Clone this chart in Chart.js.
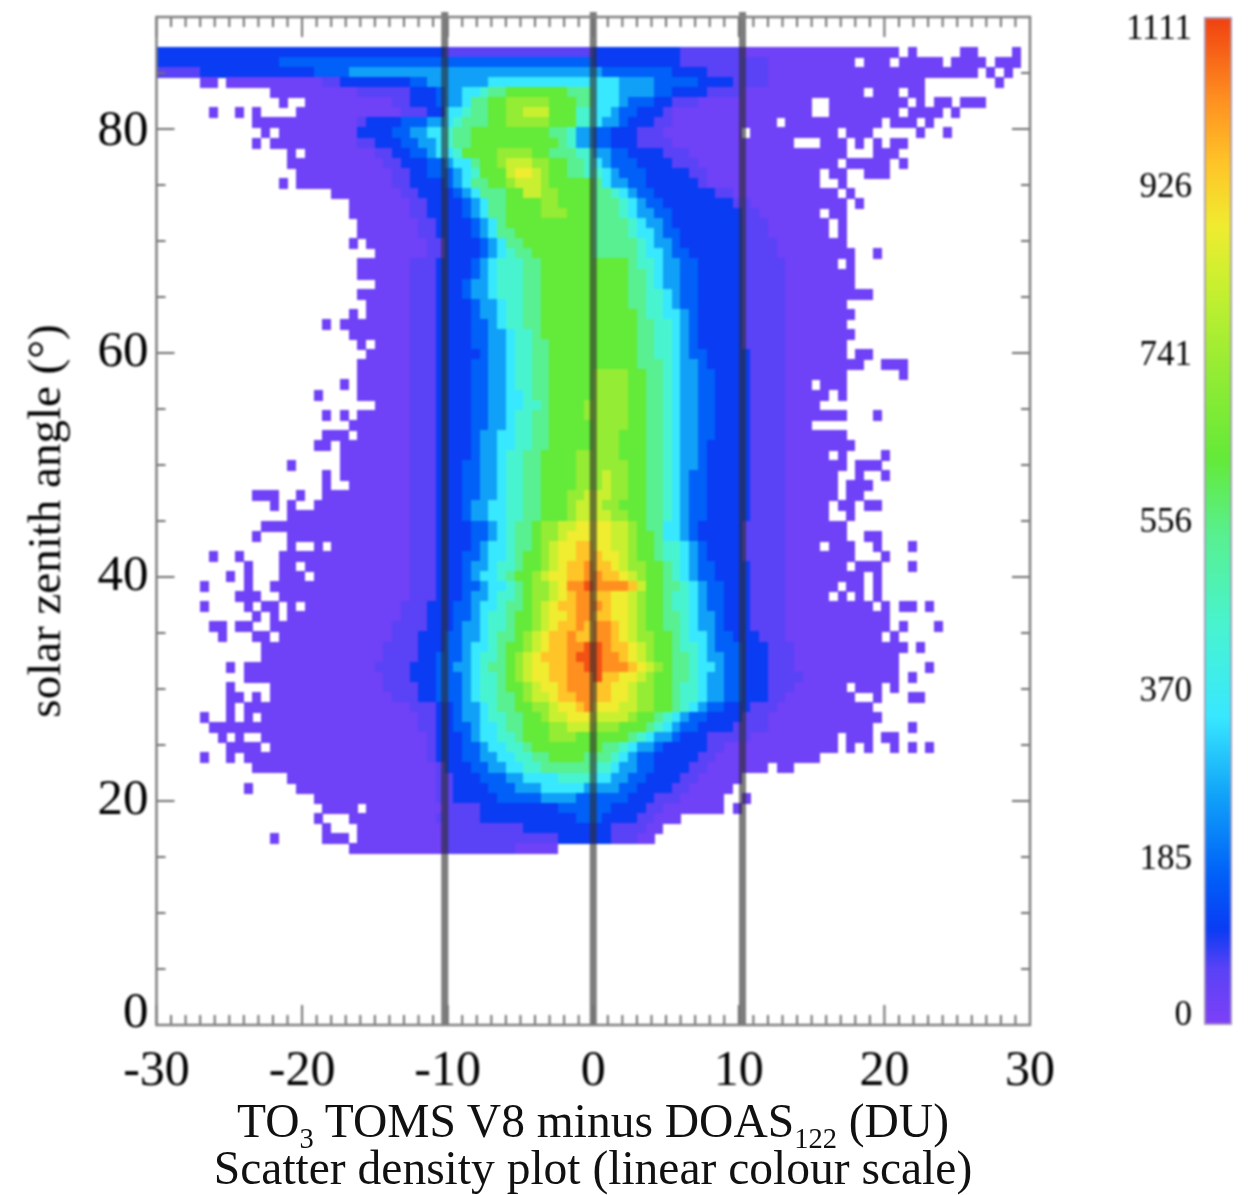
<!DOCTYPE html>
<html>
<head>
<meta charset="utf-8">
<script src="https://cdn.jsdelivr.net/npm/chart.js@4"></script>
<style>
    html, body { margin: 0; padding: 0; background: #fff; }
    body { width: 1248px; height: 1195px; position: relative; overflow: hidden; }
    canvas { position: absolute; top: 0; filter: blur(0.8px); }
    #mainChart { left: 0; }
    #barChart { left: 1100px; }
    .xtitle {
        position: absolute; left: 93px; width: 1000px; text-align: center; white-space: nowrap;
        font-family: "Liberation Serif", serif; color: #111; filter: blur(0.4px);
    }
    .xtitle sub { font-size: 60%; line-height: 0; }
</style>
</head>
<body>
<canvas id="mainChart" width="1248" height="1195"></canvas>
<canvas id="barChart" width="148" height="1195"></canvas>
<div class="xtitle" style="top:1096px;font-size:47.5px;line-height:50px">TO<sub>3</sub> TOMS V8 minus DOAS<sub>122</sub> (DU)</div>
<div class="xtitle" style="top:1143px;font-size:47.5px;line-height:50px">Scatter density plot (linear colour scale)</div>
<script>
'use strict';

var xTickValues = [-30, -20, -10, 0, 10, 20, 30];
var xTickLabels = ['-30', '-20', '-10', '0', '10', '20', '30'];
// the 0 label sits a little above its tick in the original
var yLabelValues = [1.05, 20, 40, 60, 79.8];
var yTickLabels = ['0', '20', '40', '60', '80'];
var guideLines = [-10.2, 0, 10.25];

var barLabelValues = [10, 182, 367, 553, 738, 923, 1097];
var barTickLabels = ['0', '185', '370', '556', '741', '926', '1111'];

// counts per level letter, read against the colour bar
var levelNames = 'abcdefghijklmno';
var levelCounts = [25, 62, 105, 165, 250, 340, 440, 540, 625, 720, 815, 880, 950, 1020, 1090];

var stopCounts = [0, 62, 105, 165, 250, 340, 440, 540, 625, 720, 815, 880, 950, 1020, 1111];
var stopColours = ['#7e40f8', '#5a42f6', '#0a3cf4', '#0060f8', '#10a0f8', '#38e8ff', '#48f4d0', '#58f090',
    '#64ea38', '#94ec34', '#c8f030', '#f0ec30', '#ffc428', '#ff9020', '#f04010'];

// 100 x 100 bins, 0.6 DU by 0.9 deg. Rows from bin 96 down to bin 17,
// each token is "first column + level", a dot means empty bins.
var densityRows = [
    '0c 33b 50c 60b 67a 85. 86a 87. 92a 94. 98a 99.',
    '0c 14d 50c 60b 70a 80. 81a 84. 85a 90. 91a 95. 96a 99.',
    '0b 5c 18d 22e 51d 59c 63b 70a 94. 95a 96. 97a 98.',
    '5a 7. 8a 19b 21c 29d 31e 38f 53e 57d 62c 66b 70a 88. 96a 97.',
    '13a 23b 29c 32d 33e 35f 37g 38h 40i 47h 50f 53e 57d 59c 63b 67a 81. 82a 85. 86a 88.',
    '14a 15. 17a 27b 29c 32d 33e 35f 36h 38i 40j 45i 48h 50f 53e 54d 57c 59b 62a 75. 77a 86. 87a 88. 89a 91. 92a 95.',
    '6a 7. 9a 10. 11a 12. 16a 28b 31c 33f 35g 36h 38i 40j 42k 45i 48g 50f 52e 53d 55c 58b 59a 75. 77a 85. 86a 90. 91a 92.',
    '11a 23b 24c 28d 31e 33f 34g 35h 38i 40j 45i 48g 50f 51e 53d 54c 57b 59a 71. 72a 83. 84a 87. 88a 89.',
    '12a 13. 14a 23c 27d 29e 31f 33g 34h 36i 45h 47g 48e 50d 52c 55b 58a 67. 68a 78. 79a 82. 87a 88. 90a 91.',
    '11a 12. 13a 23b 25c 28d 30e 32f 33g 34h 36i 46h 47g 48e 50d 52c 55b 59a 73. 76a 79. 80a 81. 82a 83. 84a 86.',
    '15a 16. 17a 25b 27c 29d 31e 32f 34g 35i 39j 43i 45h 48g 50e 52d 54c 58b 61a 79. 82a 85.',
    '15a 26b 28c 31d 33e 34f 36h 37i 39j 40k 43j 45i 47h 49g 50f 51e 52d 55c 59b 62a 78. 79a 84. 85a 86.',
    '16a 27b 29c 31d 34e 35f 36g 37i 40k 41l 43k 44j 45i 47h 49g 51f 52e 53d 56c 61b 63a 76. 77a 79. 81a 84.',
    '14a 15. 16a 27b 29c 33d 34e 35f 36h 38i 40j 41k 44j 45i 50h 51f 52e 54d 56c 62b 63a 76. 78a 79.',
    '20a 28b 30c 34d 35e 36f 37h 40i 42k 44j 46i 50h 52g 53f 54e 55d 57c 64b 66a 78. 79a 80.',
    '22a 29b 31c 35d 36e 37f 38h 40i 44j 46i 50h 53g 54f 55e 56d 58c 66b 68a 79. 80a 81.',
    '22a 29b 31c 35d 36e 37f 38h 40i 44j 47i 50h 53g 54f 55e 57d 59c 67b 69a 76. 77a 79.',
    '23a 30b 32c 36d 37e 38f 39h 40i 50h 54g 55f 56e 58d 59c 67b 70a 77. 78a 79.',
    '23a 30b 32c 36d 37e 38f 39h 41i 50h 54g 55f 57e 58d 60c 67b 70a 77. 78a 79.',
    '22a 23. 24a 31b 33c 37d 38e 39f 40h 42i 50h 55g 56f 57e 59d 60c 67b 71a 79.',
    '25a 31b 33c 37d 38e 39f 40g 41h 43i 50h 55g 56f 58e 59d 61c 67b 71a 80. 82a 83.',
    '23a 29b 32c 36d 37e 38f 39g 42h 44i 54h 55g 57f 58e 60d 62c 67b 72a 78. 79a 80.',
    '23a 29b 32c 36d 37e 38f 39g 42h 44i 54h 56g 57f 58e 60d 62c 67b 72a 80.',
    '25a 29b 32c 35d 36e 38f 39g 42h 44i 54h 56g 57f 58e 60d 62c 67b 72a 80.',
    '23a 29b 32c 35d 36e 38f 39g 42h 44i 54h 56g 58f 59e 60d 62c 67b 72a 82.',
    '24a 29b 32c 36d 37e 39f 40g 42h 44i 54h 56g 58f 59e 60d 62c 67b 72a 79.',
    '22a 23. 24a 29b 32c 36d 37e 39f 40g 42h 44i 55h 56g 58f 60e 61d 62c 67b 72a 80.',
    '19a 20. 21a 29b 32c 36d 38e 39f 40g 42h 44i 55h 57g 59f 60e 61d 62c 67b 72a 79.',
    '22a 29b 32c 36d 38e 40f 41g 43h 44i 55h 57g 59f 60e 61d 62c 67b 72a 80.',
    '23a 24. 25a 29b 32c 36d 38e 40f 41g 43h 45i 55h 57g 59f 60e 61d 62c 67b 72a 79.',
    '24a 29b 32c 37d 38e 40f 41g 43h 45i 55h 57g 59f 60e 61d 63c 68b 72a 79. 80a 82.',
    '23a 29b 32c 36d 38e 40f 41g 43h 45i 55h 58g 59f 60e 62d 63c 68b 72a 81. 83a 86.',
    '23a 29b 32c 36d 38e 40f 41g 43h 45i 50j 54i 56h 58g 59f 60e 62d 64c 68b 72a 79. 85a 86.',
    '21a 22. 23a 29b 32c 36d 38e 40f 41g 43h 45i 50j 54i 56h 58g 59f 60e 62d 64c 68b 72a 75. 76a 79.',
    '18a 19. 23a 29b 32c 36d 38e 40f 42g 43h 45i 50j 54i 56h 58g 59f 60e 62d 64c 68b 72a 77. 78a 79.',
    '25a 29b 32c 36d 38e 40f 42g 44h 45i 49j 54i 56h 58g 59f 60e 62d 64c 68b 72a 76.',
    '19a 20. 21a 22. 23a 29b 32c 36d 38e 40f 41g 43h 45i 49j 54i 56h 58g 59f 60e 62d 64c 68b 72a 79. 82a 83.',
    '22a 29b 32c 36d 38e 40f 41g 43h 45i 50j 54i 56h 58g 59f 60e 62d 64c 68b 72a 75.',
    '19a 22. 23a 29b 32c 36d 37e 39f 41g 43h 45i 50j 53i 56h 58g 59f 60e 62d 64c 68b 72a 79.',
    '18a 20. 21a 29b 32c 36d 37e 39f 41g 43h 45i 50j 53i 56h 58g 59f 60e 62d 63c 68b 72a 80.',
    '21a 29b 32c 36d 37e 39f 40g 42h 44i 48j 53i 56h 58g 59f 60e 62d 63c 68b 72a 77. 78a 79. 83a 84.',
    '15a 16. 21a 29b 32c 35d 37e 39f 40g 42h 44i 48j 54i 56h 58g 59f 60e 62d 63c 68b 72a 79. 80a 83.',
    '19a 20. 21a 29b 32c 35d 37e 39f 40g 42h 44i 48j 51k 52j 54i 56h 58g 59f 60e 61d 63c 68b 72a 78. 80a 81. 83a 84.',
    '19a 20. 22a 29b 32c 35d 37e 39f 40g 42h 44i 48j 51k 52j 54i 56h 58g 59f 60e 61d 63c 68b 72a 78. 79a 82.',
    '11a 14. 16a 17. 19a 29b 32c 35d 37e 39f 40g 42h 44i 47j 49k 52j 54i 56h 58g 59f 60e 61d 63c 68b 72a 78. 79a 81.',
    '13a 14. 15a 16. 18a 29b 32c 35d 36e 38f 40g 42h 44i 47j 48k 51j 53i 56h 58g 59f 60e 61d 63c 68b 72a 77. 78a 80. 81a 83.',
    '15a 29b 32c 35d 36e 38f 40g 42h 44i 47j 48k 52j 54i 56h 58g 59f 60e 61d 63c 68b 72a 77. 79a 80.',
    '12a 29b 32c 36d 38e 39f 40g 41h 43i 44j 46k 48l 52k 54j 55i 56h 58f 60e 61d 62c 67b 72a 79.',
    '11a 12. 15a 29b 32c 36d 38e 39f 40g 41h 43i 44j 46k 47l 52k 54j 55i 57h 58f 60e 61d 62c 67b 72a 79. 81a 83.',
    '15a 16. 18a 19. 20a 29b 32c 36d 37e 38f 40g 41h 43i 44j 45k 46l 48m 50l 52k 54j 55i 57h 58g 60f 61e 62d 63c 67b 72a 76. 77a 80. 82a 83. 86a 87.',
    '6a 7. 9a 10. 14a 29b 32c 35d 37e 38f 40g 41h 42i 44j 45k 46l 48m 51l 53k 54j 55i 57h 58g 60f 61e 62d 63c 67b 72a 80. 83a 84.',
    '10a 11. 14a 16. 17a 29b 32c 35d 36e 38f 39g 41h 42i 44j 45k 46l 47m 49n 50m 52l 53k 54j 56i 58h 59g 60f 61e 62d 64c 68b 72a 79. 80a 83. 86a 87.',
    '8a 9. 10a 11. 14a 17. 18a 29b 32c 35d 36e 37f 39g 40h 41i 43j 44k 45l 47m 49n 51m 53l 54k 55j 56i 58h 59g 60f 61e 62d 64c 68b 72a 81. 82a 83.',
    '5a 6. 10a 11. 13a 29b 32c 35d 37e 38f 40g 41h 42i 43j 45k 46l 47n 49o 50n 54m 55k 56i 58h 60g 61f 62e 63d 65c 68b 72a 78. 79a 81. 82a 83.',
    '9a 12. 14a 29b 32c 35d 36e 38f 39g 41h 42i 43j 45k 46l 47m 48n 50m 52l 54k 55j 56i 58h 59g 61f 62e 63d 65c 68b 72a 77. 78a 79. 80a 81. 82a 83.',
    '5a 6. 10a 11. 12a 14. 15a 16. 17a 28b 31c 34d 36e 37f 39g 40h 42i 43j 44k 45l 46m 48n 51m 52l 54k 55j 56i 58h 59g 61f 62e 63d 65c 68b 72a 82. 83a 84. 85a 87. 88a 89.',
    '11a 12. 13a 14. 15a 28b 31c 34d 36e 37f 38g 40h 41i 43j 44k 45l 47m 48n 50m 52l 54k 55j 56i 58h 60g 61f 62e 64d 65c 68b 72a 84.',
    '6a 8. 9a 11. 13a 27b 31c 34d 35e 37f 38g 40h 41i 43j 44k 45l 46m 48n 49m 50n 52m 53l 54k 55j 56i 58h 60g 61f 62e 64d 65c 68b 72a 84. 85a 86. 89a 90.',
    '7a 8. 11a 13. 14a 27b 30c 33d 35e 37f 38g 39h 41i 42j 43k 44l 45m 47n 48m 50n 52m 53l 54k 55j 57i 59h 60g 61f 63e 64d 66c 69b 72a 83. 84a 85.',
    '12a 26b 30c 33d 35e 36f 38g 39h 40i 42j 43k 44l 45m 47n 49o 51n 52m 54l 55k 56j 57i 59h 60g 62f 63e 64d 67c 70b 73a 86. 87a 88.',
    '12a 26b 30c 32d 35e 36f 37g 39h 40i 41j 42k 43l 44m 47n 48o 51n 53m 54l 55k 56j 57i 59h 61g 62f 63e 65d 67c 70b 73a 85.',
    '8a 9. 10a 25b 29c 32d 34e 36f 37g 38h 40i 41j 42k 43l 45m 47n 49o 51n 54m 55l 56k 57j 58i 59h 61g 62f 64e 65d 67c 70b 73a 85. 88a 89.',
    '10a 26b 29c 32d 35e 36f 37g 39h 40i 41j 42k 43l 45m 47n 50o 51m 53l 55k 56j 57i 59h 61g 62f 63e 65d 67c 70b 74a 85. 86a 87.',
    '8a 9. 13a 26b 30c 32d 35e 36f 37g 39h 40i 42j 43k 44l 46m 47n 50m 52l 54k 55j 57i 59h 60g 62f 63e 65d 67c 70b 73a 79. 80a 83. 84a 85.',
    '8a 10. 11a 12. 13a 27b 30c 32d 35e 36f 37g 39h 41i 42j 43k 45l 46m 48n 50m 52l 54k 55j 57i 59h 60g 62f 63e 65d 67c 70b 72a 80. 82a 83. 86a 88.',
    '8a 9. 10a 29b 32c 34d 35e 37f 38g 39h 41i 43j 45k 46l 48m 49n 50l 53k 55j 57i 59h 60g 61f 62e 63d 65c 68b 71a 82.',
    '5a 6. 8a 9. 10a 11. 12a 30b 32c 34d 35e 37f 38g 40h 42i 44j 45k 47l 50k 54j 55i 57h 58g 59f 60e 61d 63c 67b 70a 83.',
    '6a 30b 32c 34d 36e 37f 39g 40h 42i 45j 47k 50j 53i 56h 57g 58f 59e 60d 62c 66b 70a 82. 86a 87.',
    '7a 8. 9a 10. 12a 31b 32c 35d 36e 37f 39g 41h 42i 45j 48i 54h 55g 56f 57e 59d 60c 63b 68a 78. 79a 82. 83a 85.',
    '8a 12. 13a 31b 32c 35d 37e 38f 40g 42h 43i 51h 53g 54f 55e 57d 58c 63b 65a 78. 79a 80. 81a 82. 84a 85. 86a 87. 88a 89.',
    '5a 6. 8a 9. 10a 31b 32c 35d 37e 39f 41g 43h 45i 49h 52g 53f 54e 55d 57c 62b 64a 76.',
    '11a 32b 33c 36d 38e 40f 42g 44h 50g 52f 53e 55d 57c 61b 63a 70. 71a 73.',
    '15a 32b 34c 37d 40e 42f 46g 50f 52e 54d 56c 60b 62a 67.',
    '10a 11. 16a 32b 34c 38d 41e 44f 49e 53d 55c 59b 61a 66.',
    '18a 32b 34c 39d 44e 48d 54c 57b 60a 65. 67a 68.',
    '19a 23. 24a 33b 37c 46d 52c 56b 58a 65. 66a 67.',
    '18a 19. 22a 32b 37c 48d 51c 55b 57a 60.',
    '19a 20. 23a 33b 42c 52b 56a 58.',
    '13a 14. 19a 22. 23a 33b 46c 52b 55a 57.',
    '22a 33b 41a 46.'
];
var firstRowBin = 96;

var binWidth = 0.6, binHeight = 0.9;

function hexToRgb(hex) {
    return [1, 3, 5].map(function (i) { return parseInt(hex.substr(i, 2), 16); });
}

function countColour(count) {
    var i = 1;
    while (i < stopCounts.length - 1 && count > stopCounts[i]) i++;
    var t = Math.max(0, Math.min(1, (count - stopCounts[i - 1]) / (stopCounts[i] - stopCounts[i - 1])));
    var a = hexToRgb(stopColours[i - 1]), b = hexToRgb(stopColours[i]);
    return 'rgb(' + a.map(function (v, k) { return Math.round(v + (b[k] - v) * t); }).join(',') + ')';
}

// one little canvas per colour, used as the point style of the cells
var cellImages = {};
function cellImage(count) {
    if (!cellImages[count]) {
        var c = document.createElement('canvas');
        c.width = 9;
        c.height = 11;
        var g = c.getContext('2d');
        g.fillStyle = countColour(count);
        g.fillRect(0, 0, 9, 11);
        cellImages[count] = c;
    }
    return cellImages[count];
}

var cells = [];
densityRows.forEach(function (row, r) {
    var bin = firstRowBin - r;
    var tokens = row.split(' ');
    tokens.forEach(function (tok, t) {
        var level = tok.charAt(tok.length - 1);
        if (level === '.') return;
        var from = parseInt(tok, 10);
        var to = t + 1 < tokens.length ? parseInt(tokens[t + 1], 10) : from + 1;
        var count = levelCounts[levelNames.indexOf(level)];
        for (var col = from; col < to; col++) {
            cells.push({ x: -30 + (col + 0.5) * binWidth, y: (bin + 0.5) * binHeight, count: count });
        }
    });
});

var serif = '"Liberation Serif", "Times New Roman", serif';

// the library reserves room for half a label at the axis ends, the frame here is fixed
function dropScaleMargins(s) {
    s.paddingTop = 0;
    s.paddingBottom = 0;
    s.paddingLeft = 0;
    s.paddingRight = 0;
}

// inward ticks on all four sides plus the frame
var frameTicks = {
    id: 'frameTicks',
    afterDraw: function (chart) {
        var c = chart.ctx, a = chart.chartArea, sx = chart.scales.x, sy = chart.scales.y, v, px, len;
        c.save();
        c.strokeStyle = '#707070';
        c.lineWidth = 2;
        c.beginPath();
        for (v = -30; v <= 30; v++) {
            px = sx.getPixelForValue(v);
            len = v % 10 === 0 ? 20 : 10;
            c.moveTo(px, a.top); c.lineTo(px, a.top + len);
            c.moveTo(px, a.bottom); c.lineTo(px, a.bottom - len);
        }
        for (v = 0; v <= 90; v += 5) {
            px = sy.getPixelForValue(v);
            len = v % 20 === 0 ? 18 : 9;
            c.moveTo(a.left, px); c.lineTo(a.left + len, px);
            c.moveTo(a.right, px); c.lineTo(a.right - len, px);
        }
        c.stroke();
        c.strokeStyle = '#808080';
        c.lineWidth = 2.5;
        c.strokeRect(a.left, a.top, a.right - a.left, a.bottom - a.top);
        c.restore();
    }
};

var datasets = [{
    label: 'density',
    data: cells,
    order: 2,
    showLine: false,
    pointRadius: 5,
    pointBorderWidth: 0,
    pointStyle: function (ctx) { return ctx.raw ? cellImage(ctx.raw.count) : 'rect'; }
}];
guideLines.forEach(function (g) {
    datasets.push({
        label: 'guide ' + g,
        data: [{ x: g, y: 0 }, { x: g, y: 90.45 }],
        order: 1,
        showLine: true,
        clip: false,
        borderColor: 'rgba(45,45,45,0.62)',
        borderWidth: 7,
        pointRadius: 0
    });
});

new Chart(document.getElementById('mainChart'), {
    type: 'scatter',
    data: { datasets: datasets },
    plugins: [frameTicks],
    options: {
        responsive: false,
        animation: false,
        events: [],
        layout: { padding: { top: 17, right: 218, bottom: 0, left: 0 } },
        plugins: { legend: { display: false }, tooltip: { enabled: false } },
        scales: {
            x: {
                type: 'linear', min: -30, max: 30,
                grid: { display: false },
                border: { display: false },
                afterFit: function (s) { s.height = 170; dropScaleMargins(s); },
                afterBuildTicks: function (s) { s.ticks = xTickValues.map(function (v) { return { value: v }; }); },
                ticks: {
                    autoSkip: false, maxRotation: 0, padding: 9, color: '#000',
                    font: { family: serif, size: 50 },
                    callback: function (v, i) { return xTickLabels[i]; }
                }
            },
            y: {
                type: 'linear', min: 0, max: 90,
                grid: { display: false },
                border: { display: false },
                afterFit: function (s) { s.width = 156.5; dropScaleMargins(s); },
                afterBuildTicks: function (s) { s.ticks = yLabelValues.map(function (v) { return { value: v }; }); },
                title: {
                    display: true, text: 'solar zenith angle (\u00b0)', color: '#000',
                    font: { family: serif, size: 47 }, padding: { top: 19, bottom: 0 }
                },
                ticks: {
                    autoSkip: false, padding: 0, color: '#000',
                    font: { family: serif, size: 51 },
                    callback: function (v, i) { return yTickLabels[i]; }
                }
            }
        }
    }
});

new Chart(document.getElementById('barChart'), {
    type: 'bar',
    data: {
        labels: ['colour'],
        datasets: [{
            data: [[0, 1111]],
            borderColor: '#a898b8',
            borderWidth: 2,
            borderSkipped: false,
            barPercentage: 1,
            categoryPercentage: 1,
            backgroundColor: function (ctx) {
                var a = ctx.chart.chartArea;
                if (!a) return stopColours[0];
                var g = ctx.chart.ctx.createLinearGradient(0, a.bottom, 0, a.top);
                stopCounts.forEach(function (n, i) { g.addColorStop(n / 1111, stopColours[i]); });
                return g;
            }
        }]
    },
    options: {
        responsive: false,
        animation: false,
        events: [],
        layout: { padding: { top: 17, right: 16, bottom: 170, left: 0 } },
        plugins: { legend: { display: false }, tooltip: { enabled: false } },
        scales: {
            x: { display: false },
            y: {
                type: 'linear', min: 0, max: 1111,
                grid: { display: false },
                border: { display: false },
                afterFit: function (s) { s.width = 104; dropScaleMargins(s); },
                afterBuildTicks: function (s) { s.ticks = barLabelValues.map(function (v) { return { value: v }; }); },
                ticks: {
                    autoSkip: false, padding: 4, color: '#000',
                    font: { family: serif, size: 35 },
                    callback: function (v, i) { return barTickLabels[i]; }
                }
            }
        }
    }
});
</script>
</body>
</html>
